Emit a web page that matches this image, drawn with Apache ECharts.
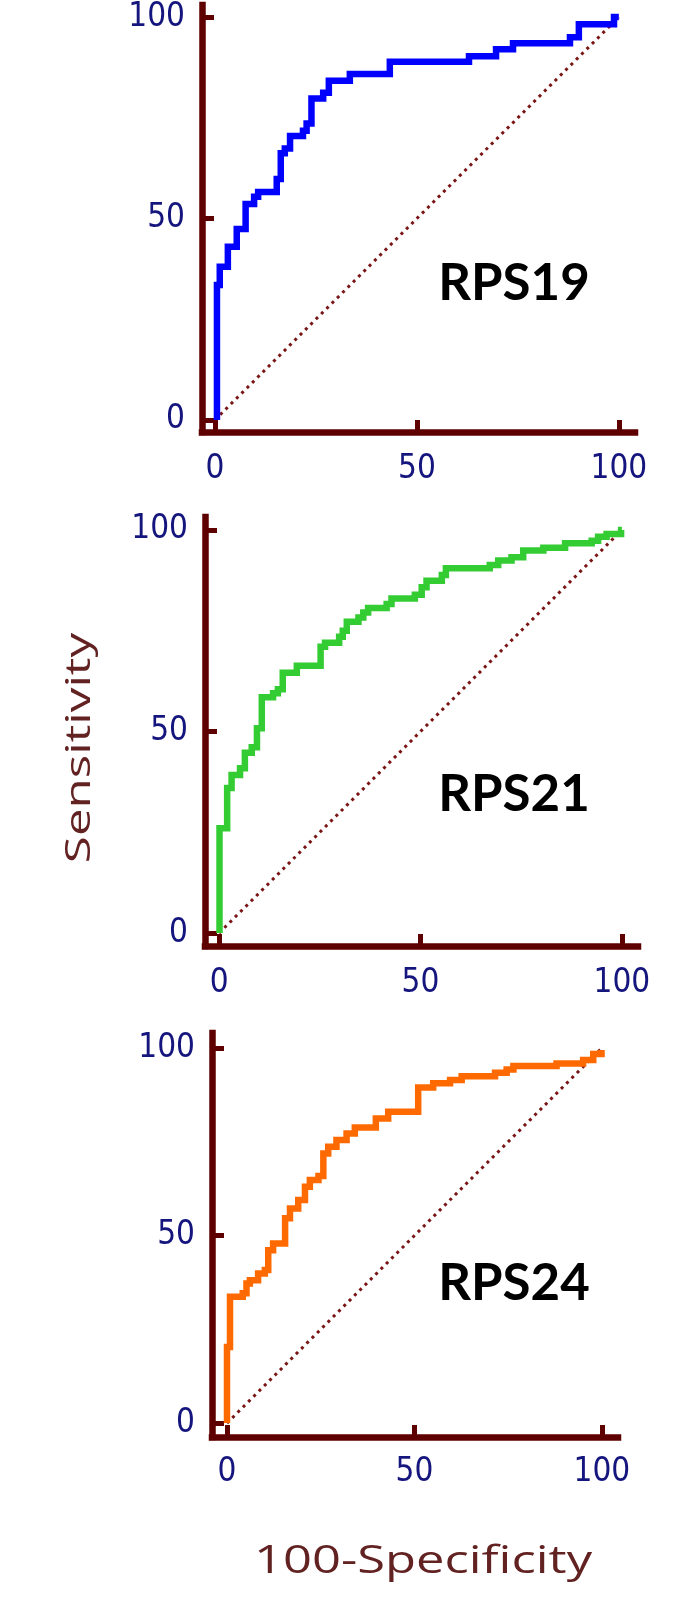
<!DOCTYPE html>
<html><head><meta charset="utf-8">
<script src="https://cdn.jsdelivr.net/npm/echarts@6/dist/echarts.min.js"></script>
<style>html,body{margin:0;padding:0;background:#fff;overflow:hidden;width:100%;height:100%}#c{width:100vw;height:100vh}</style>
</head><body><div id="c"></div>
<script>
// ---- data ----
const panelNames = ['RPS19', 'RPS21', 'RPS24'];
const tickValues = [0, 50, 100];
const yTitle = 'Sensitivity';
const xTitle = '100-Specificity';

const fpr19 = [0.5,0.5,1.2,3.2,5.4,7.6,9.7,10.7,15.3,16.3,17.3,18.6,21.8,22.7,23.9,26.8,28.2,33.4,43.3,62.9,69.6,73.8,87.9,90.1,98.8,100];
const tpr19 = [0,33.5,38,43,47.4,53.6,55.4,56.6,59.8,66.2,67.4,70.5,71.8,73.6,79.8,81.2,84.2,85.9,88.9,90.3,92,93.5,95,98.2,100,100];

const fpr21 = [0.1,0.1,2,3.1,5.2,6.4,8.1,9.4,10.6,13.4,14.6,15.8,19.3,25.2,26.3,29.8,30.7,31.7,34.6,35.8,37,41.6,42.8,48.6,50.3,51.5,55.3,56.3,67.2,69.3,72.6,75.5,80.5,85.9,92.5,94.1,96.2,99.8,100];
const tpr21 = [0,26,36,39.2,40.9,44.7,46.1,50.8,58.5,59.5,60.5,64.6,66.3,71,72,73.5,75,77.2,78.3,79.5,80.6,81.6,83,83.9,85.8,87.4,88.8,90.5,91.3,92.4,93.2,94.9,95.6,96.7,97.3,98.3,99,100,100];

const fpr24 = [0,0,0.8,4.2,5.2,6.1,8.3,10.1,11,12.3,15.5,16.8,19,20.8,22.1,24.4,25.7,27,29.2,31.9,34.1,39.7,43,51,55,59.5,62.6,71.5,74.6,76.4,87.9,95,97.7,99.9];
const tpr24 = [0,20.3,33.7,34.6,37.2,38.1,39.9,40.8,46.1,47.9,54.6,57.2,59.5,63,64.8,65.9,71.9,73.7,75.5,77.2,78.8,81.2,83,89.5,90.6,91.5,92.5,93.4,94.3,95.2,95.9,96.8,98.4,99.5];

const diagX = [0, 100];
const diagY = [0, 100];

// ---- layout / style (designed for a 700x1600 page, scaled to the actual viewport) ----
const curves = [[fpr19, tpr19], [fpr21, tpr21], [fpr24, tpr24]];
const curveColors = ['#0000ff', '#33cc33', '#ff6a00'];
const panels = [
  {left: 202, top: 5,    width: 433, height: 427, xMin: -3.2, xMax: 104,   yMin: -3,   yMax: 103,   labelY: 284,  xMargin: 21},
  {left: 205, top: 517,  width: 433, height: 429, xMin: -3.5, xMax: 104,   yMin: -3.2, yMax: 103.2, labelY: 795,  xMargin: 21},
  {left: 212, top: 1033, width: 406, height: 404, xMin: -4,   xMax: 104.3, yMin: -3.7, yMax: 104,   labelY: 1284, xMargin: 19}
];
const axisColor = '#5e0000';
const labelColor = '#15157e';
const titleColor = '#622222';
const tickFont = "'DejaVu Sans Condensed', 'DejaVu Sans', sans-serif";

const zip = (a, b) => a.map((v, i) => [v, b[i]]);

const chart = echarts.init(document.getElementById('c'), null, {renderer: 'canvas'});
const W = chart.getWidth(), H = chart.getHeight();
const sx = W / 700, sy = H / 1600, s = Math.min(sx, sy);

const grid = [], xAxis = [], yAxis = [], series = [], graphic = [];
panels.forEach((p, i) => {
  grid.push({left: p.left * sx, top: p.top * sy, width: p.width * sx, height: p.height * sy, containLabel: false});
  const common = {
    type: 'value',
    gridIndex: i,
    splitLine: {show: false},
    axisLine: {show: true, onZero: false, lineStyle: {color: axisColor, width: 6.5 * s, cap: 'square'}},
    axisTick: {show: true, inside: true, length: 12 * s, customValues: tickValues, lineStyle: {color: axisColor, width: 5 * s}},
  };
  xAxis.push(Object.assign({}, common, {
    min: p.xMin, max: p.xMax,
    axisLabel: {show: true, customValues: tickValues, margin: p.xMargin * s, color: labelColor, fontSize: 33 * s, fontFamily: tickFont}
  }));
  yAxis.push(Object.assign({}, common, {
    min: p.yMin, max: p.yMax,
    axisLabel: {show: true, customValues: tickValues, margin: 17 * s, color: labelColor, fontSize: 33 * s, fontFamily: tickFont}
  }));
  series.push({
    type: 'line', xAxisIndex: i, yAxisIndex: i, z: 2,
    data: zip(diagX, diagY), symbol: 'none', silent: true,
    lineStyle: {color: '#7a1515', width: 3 * s, type: [3 * s, 4.5 * s]}
  });
  series.push({
    type: 'line', xAxisIndex: i, yAxisIndex: i, z: 3,
    data: zip(curves[i][0], curves[i][1]), step: 'end', symbol: 'none', showSymbol: false,
    lineStyle: {color: curveColors[i], width: 6.5 * s, join: 'miter', cap: 'butt'}
  });
  graphic.push({
    type: 'text', x: 514 * sx, y: p.labelY * sy, z: 10,
    style: {text: panelNames[i], fill: '#000', font: 'bold ' + (51 * s) + "px Lato, 'Open Sans', sans-serif", textAlign: 'center', textVerticalAlign: 'middle'}
  });
});

graphic.push({
  type: 'text', x: 80 * sx, y: 748 * sy, rotation: Math.PI / 2, scaleX: 1.45, z: 10,
  style: {text: yTitle, fill: titleColor, font: (34 * s) + "px 'Open Sans', sans-serif", textAlign: 'center', textVerticalAlign: 'middle'}
});
graphic.push({
  type: 'text', x: 423 * sx, y: 1562 * sy, scaleX: 1.3, z: 10,
  style: {text: xTitle, fill: titleColor, font: (39 * s) + "px 'Open Sans', sans-serif", textAlign: 'center', textVerticalAlign: 'middle'}
});

chart.setOption({
  animation: false,
  backgroundColor: '#ffffff',
  grid, xAxis, yAxis, series, graphic
});
</script>
</body></html>
